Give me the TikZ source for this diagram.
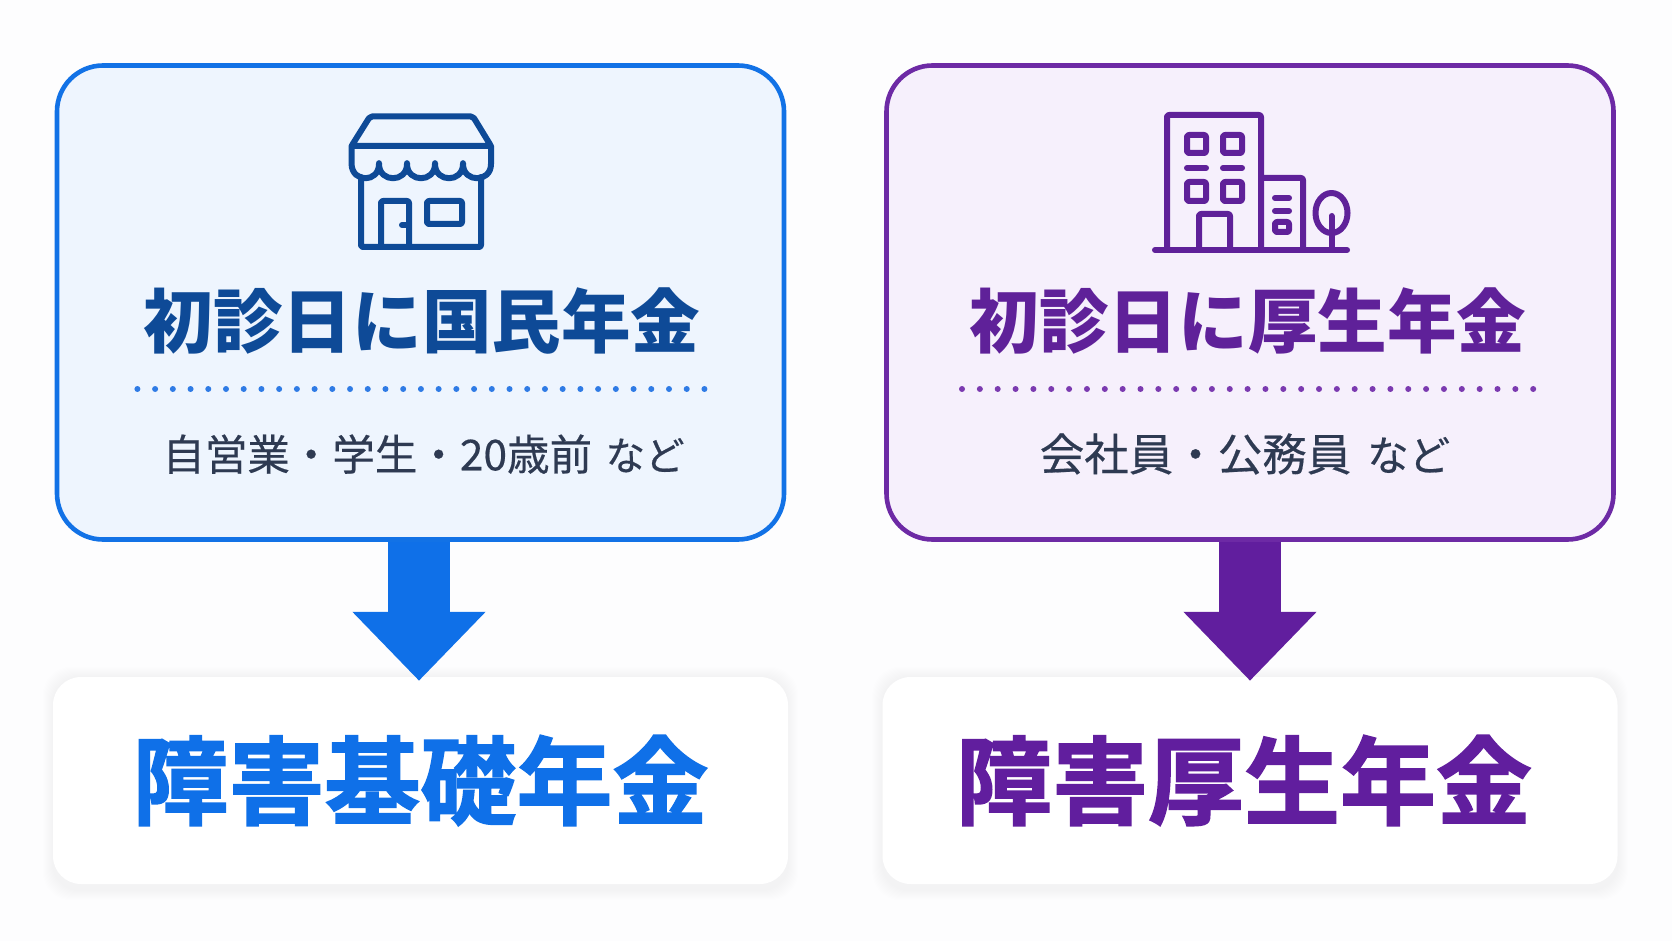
\documentclass[tikz,border=0pt]{standalone}
\usepackage{fontspec}
\setmainfont{Noto Sans CJK JP}
\newfontfamily\jpheavy[FakeBold=1.6]{Noto Sans CJK JP Bold}
\newfontfamily\jpmedium[FakeBold=0.4]{Noto Sans CJK JP}
\usetikzlibrary{arrows.meta,positioning,backgrounds}
\definecolor{bluedeep}{HTML}{0F70E8}
\definecolor{bluedark}{HTML}{0E4A97}
\definecolor{bluepale}{HTML}{EEF5FE}
\definecolor{blueline}{HTML}{1272E6}
\definecolor{bluedot}{HTML}{2F7BE5}
\definecolor{purpdeep}{HTML}{611E9E}
\definecolor{purpdark}{HTML}{5F2199}
\definecolor{purppale}{HTML}{F6F0FC}
\definecolor{purpline}{HTML}{6D2AA5}
\definecolor{purpdot}{HTML}{7B3AB0}
\definecolor{subgray}{HTML}{2E3A52}
\definecolor{pagewhite}{HTML}{FDFDFE}

\begin{document}
\begin{tikzpicture}[x=1pt,y=-1pt,node distance=135pt]
	\tikzstyle{rect_top}=[draw, rectangle, rounded corners=46pt, line width=4.6pt, minimum width=727pt, minimum height=474pt, inner sep=0pt]
	\tikzstyle{rect_low}=[rectangle, rounded corners=28pt, fill=white, minimum width=735pt, minimum height=207pt, inner sep=0pt]
	\tikzstyle{head}=[inner sep=0pt, font=\fontsize{69.6}{80}\selectfont\bfseries]
	\tikzstyle{sub}=[inner sep=0pt, text=subgray]
	\tikzstyle{big}=[font=\fontsize{96}{110}\selectfont\jpheavy]
	\tikzstyle{down}=[line width=62pt, shorten >=-4pt]
	\tikzstyle{dots}=[line width=6pt, line cap=round]
	\tikzstyle{icon}=[line width=6pt, line join=round, line cap=round, rounded corners=2pt]

	\useasboundingbox (0,0) rectangle (1672,941);

	\node[rect_top, draw=blueline, fill=bluepale] (kokumin) at (420.5,302.5) {};
	\node[rect_top, draw=purpline, fill=purppale] (kosei) at (1250,302.5) {};
	\node[rect_low] (kiso) [below=135pt of kokumin] {};
	\node[rect_low] (shogai) [below=135pt of kosei] {};

	\begin{pgfonlayer}{background}
		\fill[pagewhite] (0,0) rectangle (1672,941);
		\foreach \s in {1,...,10} {
			\fill[black, opacity=0.004, rounded corners=28pt]
				([xshift=-\s pt,yshift=\s pt] kiso.north west) rectangle ([xshift=\s pt,yshift=-6pt-\s pt] kiso.south east);
			\fill[black, opacity=0.004, rounded corners=28pt]
				([xshift=-\s pt,yshift=\s pt] shogai.north west) rectangle ([xshift=\s pt,yshift=-6pt-\s pt] shogai.south east);
		}
	\end{pgfonlayer}

	% shop
	\draw[icon, bluedark] (351.5,146) -- (370,116.5) -- (473,116.5) -- (491,146) -- cycle;
	\draw[icon, bluedark] (351.5,146) -- (351.5,162) .. controls (352,183) and (379,183) .. (379,162)
		.. controls (379,183) and (407,183) .. (407,162)
		.. controls (407,183) and (435,183) .. (435,162)
		.. controls (435,183) and (463,183) .. (463,162)
		.. controls (463,183) and (491,183) .. (491,162) -- (491,146);
	\draw[icon, bluedark] (361,177) -- (361,247) -- (481,247) -- (481,177);
	\draw[icon, bluedark] (381,247) -- (381,201) -- (409,201) -- (409,247);
	\draw[icon, bluedark] (402,225) -- (408,225);
	\draw[icon, bluedark] (427,201) rectangle (462,224);

	% building
	\draw[icon, purpdark] (1155,250) -- (1347,250);
	\draw[icon, purpdark] (1167,250) -- (1167,115) -- (1261,115) -- (1261,250);
	\draw[icon, purpdark] (1261,178) -- (1303,178) -- (1303,250);
	\draw[icon, purpdark] (1199,250) -- (1199,214) -- (1230,214) -- (1230,250);
	\foreach \x in {1187,1223} {
		\draw[icon, purpdark] (\x,135) rectangle (\x+19,153);
		\draw[icon, purpdark] (\x,168) -- (\x+19,168);
		\draw[icon, purpdark] (\x,182) rectangle (\x+19,201);
	}
	\draw[icon, purpdark] (1275,198) -- (1289,198);
	\draw[icon, purpdark] (1275,211) -- (1289,211);
	\draw[icon, purpdark] (1275,222) rectangle (1289,232);
	\draw[icon, purpdark] (1331.5,213) ellipse (16pt and 20pt);
	\draw[icon, purpdark] (1331.5,216) -- (1331.5,250);

	\node[head, text=bluedark] (head_l) [below=224pt of kokumin.north, xshift=1.5pt] {初診日に国民年金};
	\node[head, text=purpdark] (head_r) [below=224pt of kosei.north, xshift=-2pt] {初診日に厚生年金};

	\coordinate (dot_la) at (137.4,389);
	\coordinate (dot_lb) at (705.5,389);
	\coordinate (dot_ra) at (962,389);
	\coordinate (dot_rb) at (1534,389);
	\draw[dots, bluedot, dash pattern=on 0pt off 17.72pt] (dot_la) -- (dot_lb);
	\draw[dots, purpdot, dash pattern=on 0pt off 17.85pt] (dot_ra) -- (dot_rb);

	\node[sub, font=\fontsize{42.5}{50}\selectfont\jpmedium] (sub_l) [below=371pt of kokumin.north, xshift=3pt] {自営業・学生・20歳前\hspace{4pt} {\fontsize{39.5}{50}\selectfont など}};
	\node[sub, font=\fontsize{44.5}{50}\selectfont\jpmedium] (sub_r) [below=370pt of kosei.north, xshift=-5pt] {会社員・公務員\hspace{6pt} {\fontsize{41.5}{50}\selectfont など}};

	\node[big, text=bluedeep] (big_l) at (kiso) {障害基礎年金};
	\node[big, text=purpdeep, xshift=-6pt] (big_r) at (shogai) {障害厚生年金};

	\draw[down, bluedeep, -{Triangle[length=69pt,width=129pt]}] ([xshift=-1.5pt]kokumin.south) -- ([xshift=-1.5pt]kiso.north);
	\draw[down, purpdeep, -{Triangle[length=69pt,width=129pt]}] (kosei.south) -- (shogai.north);
\end{tikzpicture}
\end{document}
